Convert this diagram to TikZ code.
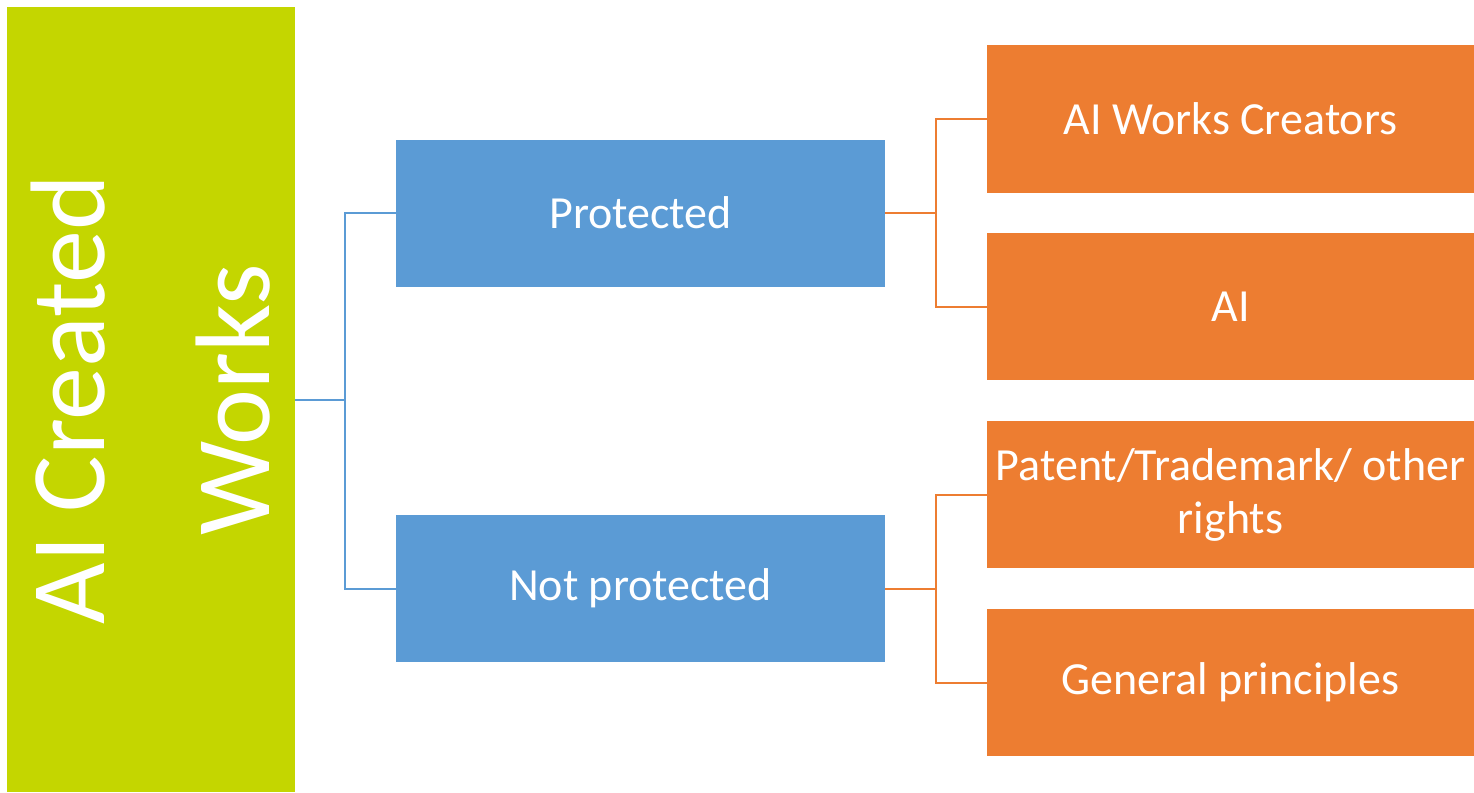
\documentclass[tikz,border=0pt]{standalone}
\usepackage{fontspec}
\setmainfont{Carlito}
\usepackage{xcolor}
\definecolor{aigreen}{RGB}{196,214,0}
\definecolor{aiblue}{RGB}{91,155,213}
\definecolor{aiorange}{RGB}{237,125,49}
\usepackage{tikz}
\usetikzlibrary{calc}
\newcommand{\widthbranch}{489pt}
\newcommand{\widthleaf}{487pt}
\newcommand{\heightbox}{147pt}
\newcommand{\gap}{50pt}
\tikzset{
    common/.style={anchor=center, rectangle, inner sep=0pt, text=white, align=center,
        font=\fontsize{46}{53}\selectfont},
    root/.style={common, fill=aigreen, minimum width=288pt, minimum height=785pt,
        font=\fontsize{106}{165}\selectfont},
    branch/.style={common, fill=aiblue, minimum width=\widthbranch, minimum height=\heightbox},
    leaf/.style={common, fill=aiorange, minimum width=\widthleaf, minimum height=\heightbox},
    bluelink/.style={aiblue, line width=2pt},
    orangelink/.style={aiorange, line width=2pt}
}
\begin{document}
\begin{tikzpicture}[x=1pt, y=1pt]
    \useasboundingbox (0,0) rectangle (1474,-792);

    \node[root] (works) at (151,-399.5) {};
    \node[rotate=90, font=\fontsize{106}{165}\selectfont, text=white, align=center] (workstext) at (works.center) {AI Created\\Works};

    \node[branch] (prot) at (640.5,-213) {Protected};
    \node[branch] (notprot) at (640.5,-588.5) {Not protected};

    \node[leaf] (creators) at (1230.5,-119) {AI Works Creators};
    \node[leaf] (ai) at (1230.5,-306.5) {AI};
    \node[leaf] (rights) at (1230.5,-494.5) {Patent/Trademark/ other\\rights};
    \node[leaf] (principles) at (1230.5,-682.5) {General principles};

    % root to branches
    \draw[bluelink] (works.east) -- ++(\gap,0) coordinate (jw) |- (prot.west);
    \draw[bluelink] (jw) |- (notprot.west);

    % branches to leaves
    \draw[orangelink] (prot.east) -- ++(51pt,0) coordinate (jp) |- (creators.west);
    \draw[orangelink] (jp) |- (ai.west);
    \draw[orangelink] (notprot.east) -- ++(51pt,0) coordinate (jn) |- (rights.west);
    \draw[orangelink] (jn) |- (principles.west);
\end{tikzpicture}
\end{document}
